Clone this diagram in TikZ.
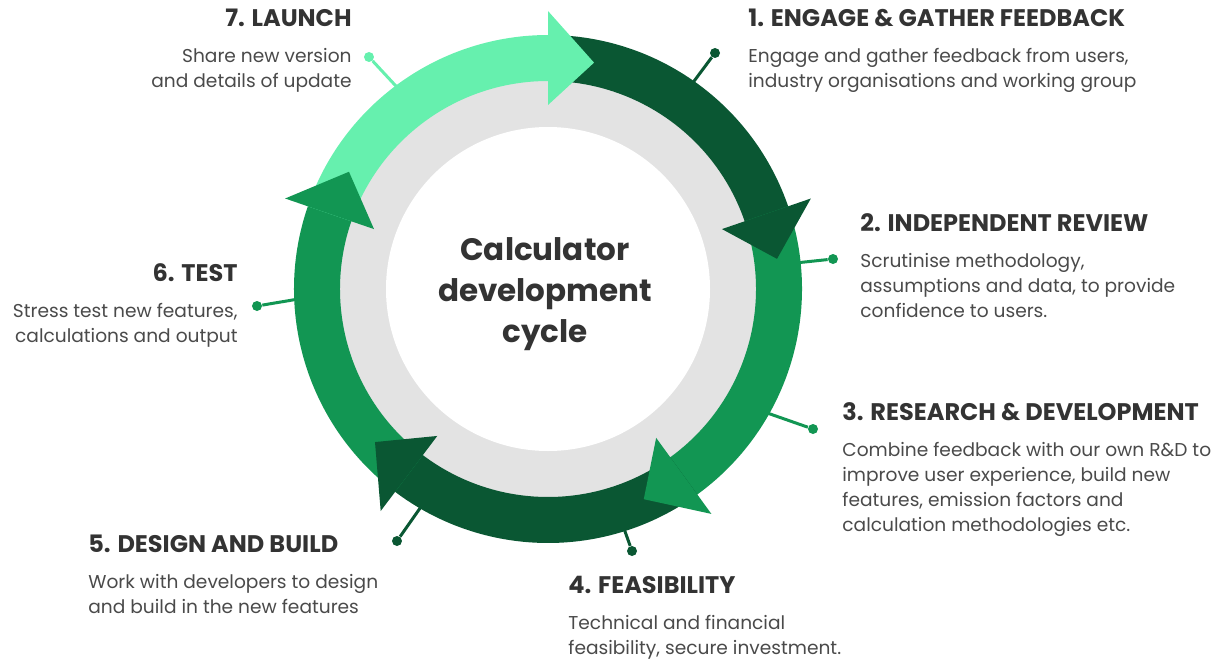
\documentclass[tikz,border=0pt]{standalone}
\usepackage{fontspec}
\setmainfont{Poppins}
\usepackage{tikz}
\usetikzlibrary{positioning}

\definecolor{darkgreen}{HTML}{0A5733}
\definecolor{midgreen}{HTML}{129653}
\definecolor{lightgreen}{HTML}{66F0AE}
\definecolor{ringgray}{HTML}{E3E3E3}
\definecolor{headtext}{HTML}{333333}
\definecolor{bodytext}{HTML}{4A4A4A}

\tikzset{
    title/.style={font=\fontsize{12}{14}\selectfont\bfseries, text=headtext, inner sep=0pt},
    body/.style={font=\fontsize{9.3}{12.5}\selectfont, text=bodytext, inner sep=0pt},
    pin/.style={line width=1.5pt},
    dot/.style={circle, inner sep=0pt, minimum size=5pt},
}

\begin{document}
\begin{tikzpicture}[x=0.5pt, y=0.5pt]
    \useasboundingbox (-548,-370) rectangle (677,289);
    % Ring
    \fill[ringgray] (0,0) circle[radius=210];
    \fill[white] (0,0) circle[radius=162];
    \node[font=\fontsize{15.5}{20.5}\selectfont\bfseries, text=headtext, align=center] (cycle) at (-3,-5) {Calculator\\development\\cycle};
    % Connectors
    \coordinate (p1) at (55:240);
    \coordinate (p2) at (6:240);
    \coordinate (p3) at (-30:240);
    \coordinate (p4) at (-72.5:240);
    \coordinate (p5) at (-120:240);
    \coordinate (p6) at (-178:240);
    \coordinate (p7) at (126.5:240);
    \node[dot, fill=darkgreen] (d1) at (167,236) {};
    \node[dot, fill=midgreen] (d2) at (285,30) {};
    \node[dot, fill=midgreen] (d3) at (265,-140) {};
    \node[dot, fill=darkgreen] (d4) at (84,-262) {};
    \node[dot, fill=darkgreen] (d5) at (-151,-252) {};
    \node[dot, fill=midgreen] (d6) at (-291,-17) {};
    \node[dot, fill=lightgreen] (d7) at (-179,232) {};
    \draw[pin, darkgreen] (p1) -- (d1);
    \draw[pin, midgreen] (p2) -- (d2);
    \draw[pin, midgreen] (p3) -- (d3);
    \draw[pin, darkgreen] (p4) -- (d4);
    \draw[pin, darkgreen] (p5) -- (d5);
    \draw[pin, midgreen] (p6) -- (d6);
    \draw[pin, lightgreen] (p7) -- (d7);
    % Arrow bodies
    \fill[darkgreen] (90:208) arc[start angle=90, end angle=18.5, radius=208] -- (18.5:254) arc[start angle=18.5, end angle=90, radius=254] -- cycle;
    \fill[midgreen] (19:208) arc[start angle=19, end angle=-54.5, radius=208] -- (-54.5:254) arc[start angle=-54.5, end angle=19, radius=254] -- cycle;
    \fill[darkgreen] (-54:208) arc[start angle=-54, end angle=-127.5, radius=208] -- (-127.5:254) arc[start angle=-127.5, end angle=-54, radius=254] -- cycle;
    \fill[midgreen] (-127:208) arc[start angle=-127, end angle=-199.5, radius=208] -- (-199.5:254) arc[start angle=-199.5, end angle=-127, radius=254] -- cycle;
    \fill[lightgreen] (161:208) arc[start angle=161, end angle=89.5, radius=208] -- (89.5:254) arc[start angle=89.5, end angle=161, radius=254] -- cycle;
    % Arrow heads
    \fill[darkgreen] (19:184) -- (19:278) -- (7.5:231) -- cycle;
    \fill[midgreen] (-54:184) -- (-54:278) -- (-65.5:231) -- cycle;
    \fill[darkgreen] (-127:184) -- (-127:278) -- (-138.5:231) -- cycle;
    \fill[midgreen] (161:184) -- (161:278) -- (149.5:231) -- cycle;
    \fill[lightgreen] (90:184) -- (90:278) -- (78.5:231) -- cycle;
    % Steps
    \node[title, anchor=base west] (engage) at (200,262) {1. ENGAGE \& GATHER FEEDBACK};
    \node[body, anchor=base west, align=left] (engagetext) at ([yshift=-30.5pt]engage.base west) {Engage and gather feedback from users,\\industry organisations and working group};
    \node[title, anchor=base west] (review) at (312,58) {2. INDEPENDENT REVIEW};
    \node[body, anchor=base west, align=left] (reviewtext) at ([yshift=-43pt]review.base west) {Scrutinise methodology,\\assumptions and data, to provide\\confidence to users.};
    \node[title, anchor=base west] (research) at (294,-131) {3. RESEARCH \& DEVELOPMENT};
    \node[body, anchor=base west, align=left] (researchtext) at ([yshift=-55.5pt]research.base west) {Combine feedback with our own R\&D to\\improve user experience, build new\\features, emission factors and\\calculation methodologies etc.};
    \node[title, anchor=base west] (feasibility) at (20,-304) {4. FEASIBILITY};
    \node[body, anchor=base west, align=left] (feasibilitytext) at ([yshift=-30.5pt]feasibility.base west) {Technical and financial\\feasibility, secure investment.};
    \node[title, anchor=base west] (design) at (-460,-263) {5. DESIGN AND BUILD};
    \node[body, anchor=base west, align=left] (designtext) at ([yshift=-30.5pt]design.base west) {Work with developers to design\\and build in the new features};
    \node[title, anchor=base east] (test) at (-310,8) {6. TEST};
    \node[body, anchor=base east, align=right] (testtext) at ([yshift=-30.5pt]test.base east) {Stress test new features,\\calculations and output};
    \node[title, anchor=base east] (launch) at (-196,262) {7. LAUNCH};
    \node[body, anchor=base east, align=right] (launchtext) at ([yshift=-30.5pt]launch.base east) {Share new version\\and details of update};
\end{tikzpicture}
\end{document}
